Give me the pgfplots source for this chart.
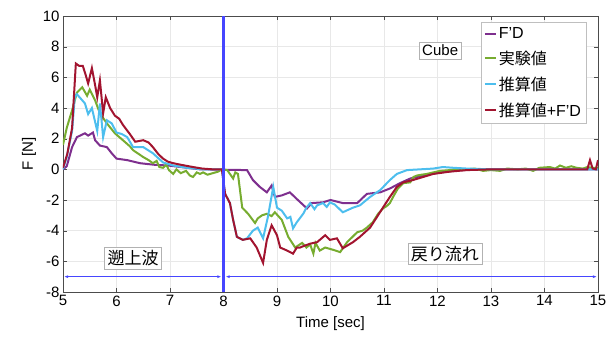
\documentclass[border=0pt]{standalone}
\usepackage{fontspec}
\setmainfont{Liberation Sans}
\newfontfamily\cjk{Noto Sans CJK JP}
\usepackage{pgfplots}
\pgfplotsset{compat=1.18}
\usetikzlibrary{arrows.meta}
\definecolor{cpur}{RGB}{126,47,142}
\definecolor{cgrn}{RGB}{119,172,48}
\definecolor{cblu}{RGB}{77,190,238}
\definecolor{cred}{RGB}{162,20,47}
\definecolor{vblue}{RGB}{70,70,255}
\begin{document}
\begin{tikzpicture}
\begin{axis}[name=ax, scale only axis, width=535pt, height=276pt,
  xmin=5, xmax=15, ymin=-8, ymax=10,
  xtick={5,6,...,15}, ytick={-8,-6,...,10},
  grid=major, grid style={gray!18},
  axis line style={gray!60!black}, tick style={gray!60!black},
  tick align=inside, major tick length=4pt,
  /pgf/number format/assume math mode=true,
  ticklabel style={font=\fontsize{15}{15}\selectfont},
  xlabel={Time [sec]}, ylabel={F [N]},
  label style={font=\fontsize{15}{15}\selectfont},
  xlabel style={yshift=-4pt},
  legend cell align=left,
  legend style={at={(0.978,0.978)}, anchor=north east, draw=gray!50,
    font=\fontsize{16}{16}\selectfont, row sep=7pt, inner sep=3pt},
  legend image code/.code={\draw[#1] (0pt,0pt) -- (11pt,0pt);},
]
\addplot[color=cpur, line width=2pt] coordinates {(5.0,0.0)(5.07,0.2)(5.17,1.45)(5.26,2.1)(5.41,2.35)(5.47,2.2)(5.56,2.4)(5.6,1.9)(5.69,1.55)(5.82,1.45)(5.91,1.05)(6.0,0.7)(6.2,0.6)(6.44,0.4)(6.7,0.3)(6.96,0.25)(7.2,0.15)(7.56,0.0)(8.44,-0.05)(8.55,-0.7)(8.68,-1.15)(8.81,-1.5)(8.9,-1.05)(8.96,-1.8)(9.09,-1.7)(9.24,-1.5)(9.39,-2.0)(9.56,-2.55)(9.65,-2.2)(9.86,-2.15)(10.0,-2.0)(10.23,-2.2)(10.5,-2.2)(10.68,-1.6)(10.93,-1.5)(11.11,-1.25)(11.3,-0.9)(11.49,-0.6)(11.73,-0.4)(12.05,-0.2)(12.42,-0.05)(13.0,0.0)(15.0,0.0)};
\addlegendentry{F'D}
\addplot[color=cgrn, line width=2pt] coordinates {(5.0,1.6)(5.07,2.7)(5.17,3.85)(5.26,5.0)(5.36,5.35)(5.45,4.8)(5.5,5.2)(5.6,4.5)(5.69,3.65)(5.82,3.0)(5.97,2.35)(6.12,1.9)(6.25,1.5)(6.31,1.25)(6.5,0.8)(6.6,0.6)(6.68,0.4)(6.75,0.55)(6.8,0.15)(6.87,0.1)(6.93,0.3)(6.98,-0.05)(7.06,-0.3)(7.12,0.0)(7.2,-0.25)(7.3,-0.1)(7.37,-0.4)(7.43,-0.5)(7.5,-0.2)(7.56,-0.3)(7.62,-0.2)(7.7,-0.35)(7.8,-0.25)(7.9,-0.15)(7.97,0.0)(8.07,-0.05)(8.18,-0.6)(8.22,-0.2)(8.27,-0.3)(8.35,-2.5)(8.46,-2.9)(8.59,-3.5)(8.64,-3.2)(8.72,-3.0)(8.81,-2.9)(8.9,-3.05)(8.96,-2.8)(9.09,-3.3)(9.21,-4.4)(9.34,-5.1)(9.47,-4.8)(9.55,-5.1)(9.62,-4.9)(9.68,-5.5)(9.72,-4.8)(9.8,-5.3)(9.9,-5.1)(10.05,-5.25)(10.18,-5.4)(10.31,-4.75)(10.5,-4.1)(10.6,-4.0)(10.68,-3.8)(10.79,-3.45)(10.89,-2.9)(10.98,-2.55)(11.05,-2.4)(11.11,-2.2)(11.17,-1.8)(11.26,-1.25)(11.36,-0.9)(11.49,-0.85)(11.55,-0.5)(11.62,-0.4)(11.7,-0.35)(11.8,-0.3)(11.92,-0.2)(12.05,-0.1)(12.23,-0.05)(12.4,0.05)(12.55,0.0)(12.7,0.05)(12.85,-0.1)(13.0,-0.05)(13.17,-0.1)(13.3,0.05)(13.5,0.0)(13.65,0.05)(13.79,-0.1)(13.9,0.1)(14.1,0.15)(14.2,0.05)(14.29,0.25)(14.4,0.1)(14.5,0.2)(14.6,0.1)(14.72,0.05)(14.8,0.15)(14.9,0.1)(15.0,0.1)};
\addlegendentry{\cjk 実験値}
\addplot[color=cblu, line width=2pt] coordinates {(5.0,0.0)(5.07,0.8)(5.17,2.5)(5.22,4.7)(5.26,4.9)(5.36,4.5)(5.41,4.3)(5.47,3.6)(5.54,4.0)(5.64,2.5)(5.69,4.3)(5.75,2.1)(5.82,3.2)(5.91,3.0)(6.0,2.4)(6.1,2.3)(6.2,2.1)(6.31,1.45)(6.5,1.45)(6.68,1.05)(6.87,0.45)(7.06,0.25)(7.32,0.1)(7.62,0.0)(7.97,0.0)(8.03,-1.6)(8.12,-2.2)(8.18,-3.3)(8.25,-4.4)(8.36,-4.6)(8.44,-4.5)(8.55,-4.0)(8.64,-3.8)(8.74,-4.5)(8.83,-3.1)(8.93,-1.15)(9.0,-2.5)(9.09,-2.7)(9.19,-3.2)(9.25,-3.1)(9.3,-3.85)(9.37,-3.45)(9.49,-2.9)(9.55,-2.5)(9.62,-2.2)(9.7,-2.6)(9.75,-2.35)(9.86,-2.2)(9.93,-2.45)(9.99,-2.15)(10.08,-2.3)(10.23,-2.8)(10.42,-2.5)(10.55,-2.35)(10.74,-1.8)(10.93,-1.35)(11.11,-0.7)(11.24,-0.3)(11.43,-0.05)(11.92,0.05)(12.1,0.15)(12.3,0.1)(12.55,0.05)(13.0,0.0)(15.0,0.0)};
\addlegendentry{\cjk 推算値}
\addplot[color=cred, line width=2pt] coordinates {(5.0,0.1)(5.08,1.0)(5.17,2.7)(5.24,6.9)(5.3,6.75)(5.37,6.75)(5.42,6.2)(5.47,5.6)(5.54,6.6)(5.6,5.5)(5.64,4.7)(5.69,5.8)(5.75,3.65)(5.8,4.7)(5.88,4.0)(5.97,3.5)(6.05,3.3)(6.12,2.9)(6.25,2.3)(6.35,1.8)(6.5,1.9)(6.6,1.75)(6.68,1.45)(6.78,1.0)(6.87,0.7)(6.96,0.5)(7.06,0.4)(7.2,0.3)(7.43,0.15)(7.6,0.05)(7.8,0.0)(7.97,0.0)(8.03,-1.6)(8.12,-2.2)(8.18,-3.3)(8.25,-4.4)(8.36,-4.6)(8.5,-4.5)(8.62,-5.1)(8.74,-6.1)(8.81,-4.6)(8.9,-3.65)(9.0,-4.3)(9.06,-5.1)(9.19,-5.3)(9.3,-5.5)(9.37,-5.1)(9.43,-5.1)(9.5,-5.0)(9.62,-4.85)(9.75,-4.75)(9.9,-4.3)(9.99,-4.6)(10.12,-4.5)(10.23,-5.15)(10.42,-4.75)(10.55,-4.4)(10.74,-3.8)(10.87,-3.1)(10.98,-2.5)(11.11,-1.8)(11.24,-1.15)(11.36,-0.85)(11.54,-0.7)(11.73,-0.5)(11.92,-0.3)(12.23,-0.15)(12.55,-0.05)(13.0,0.0)(14.0,0.0)(14.8,0.0)(14.85,0.6)(14.9,0.05)(14.96,0.0)(15.0,0.6)};
\addlegendentry{\cjk 推算値\rmfamily +F'D}
\addplot[color=vblue, line width=2.4pt, forget plot] coordinates {(8,-8)(8,10)};
\draw[vblue, line width=0.8pt, {Latex[length=4pt,width=3pt]}-{Latex[length=4pt,width=3pt]}] (axis cs:5.02,-7) -- (axis cs:7.96,-7);
\draw[vblue, line width=0.8pt, {Latex[length=4pt,width=3pt]}-{Latex[length=4pt,width=3pt]}] (axis cs:8.04,-7) -- (axis cs:14.98,-7);
\node[draw=gray!60, fill=white, inner sep=3pt, font=\fontsize{17}{17}\selectfont\cjk] at (axis cs:6.31,-5.8) {遡上波};
\node[draw=gray!60, fill=white, inner sep=3pt, font=\fontsize{17}{17}\selectfont\cjk] at (axis cs:12.14,-5.5) {戻り流れ};
\node[draw=gray!60, fill=white, inner sep=3pt, font=\fontsize{15}{15}\selectfont] at (axis cs:12.05,7.75) {Cube};
\end{axis}
\pgfresetboundingbox
\useasboundingbox ([xshift=-63pt,yshift=-46pt]ax.south west) rectangle ([xshift=16pt,yshift=16pt]ax.north east);
\end{tikzpicture}
\end{document}
